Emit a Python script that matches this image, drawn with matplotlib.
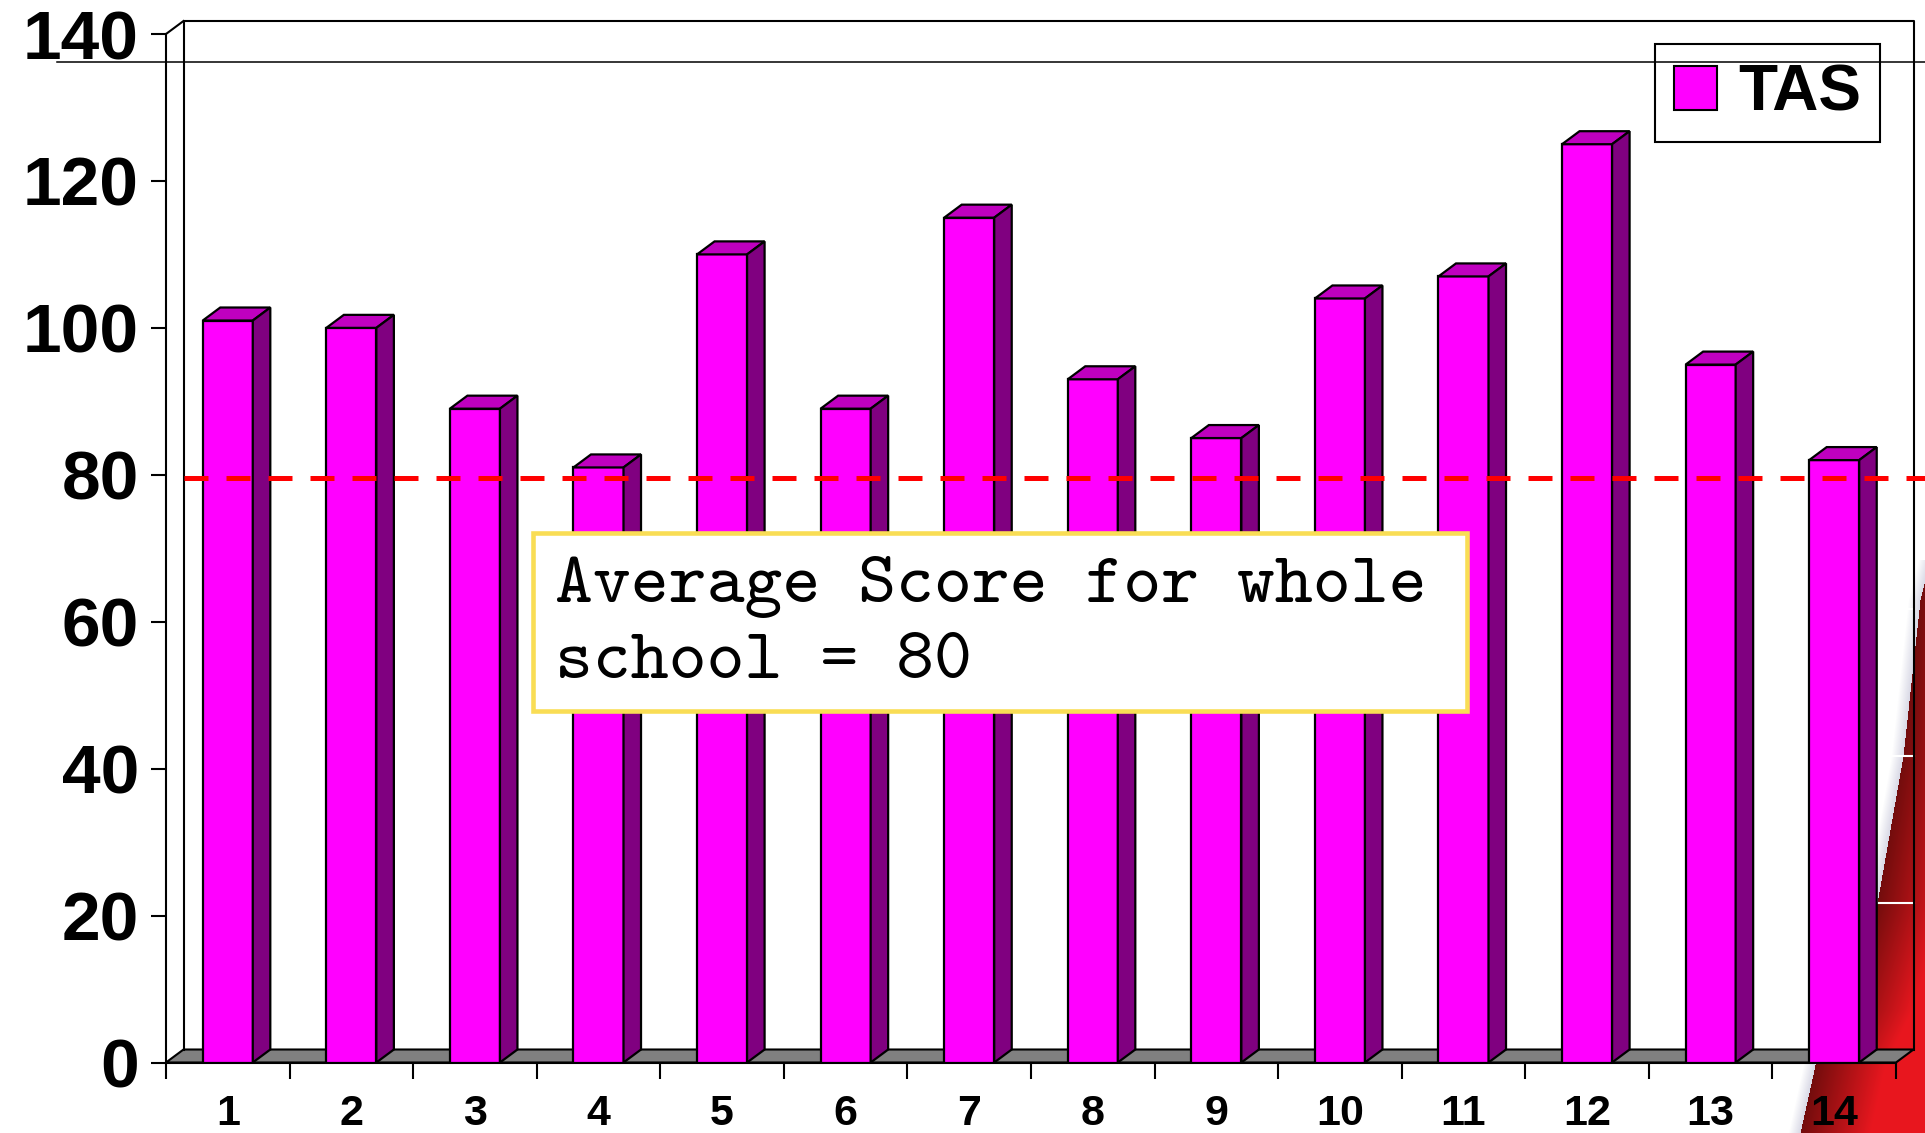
import numpy as np
import matplotlib
matplotlib.use('Agg')
import matplotlib.pyplot as plt
from matplotlib.patches import Polygon, Rectangle, Patch

plt.rcParams['font.family'] = ['Liberation Sans', 'DejaVu Sans']
plt.rcParams['font.weight'] = 'bold'

# data
categories = [str(i) for i in range(1, 15)]
tas_scores = [101, 100, 89, 81, 110, 89, 115, 93, 85, 104, 107, 125, 95, 82]
school_average = 79.5
y_ticks = [0, 20, 40, 60, 80, 100, 120, 140]
series_name = 'TAS'
note_lines = ['Average Score for whole', 'school = 80']

# colours
front_col = '#FF00FF'
top_col = '#BF00BF'
side_col = '#800080'
floor_col = '#808080'

W_PX, H_PX = 1925, 1133
fig = plt.figure(figsize=(W_PX / 100, H_PX / 100), dpi=100)
fig.patch.set_facecolor('white')

# red swoosh from the slide background (bottom right)
bg = fig.add_axes([0, 0, 1, 1], zorder=0)
bg.set_xlim(0, W_PX)
bg.set_ylim(H_PX, 0)
bg.axis('off')
edge_y = np.array([560, 600, 756, 903, 1010, 1065, 1133])
edge_x = np.array([1930, 1920, 1903, 1877, 1842, 1815, 1800])
yy, xx = np.mgrid[0:H_PX, 0:W_PX]
ex = np.interp(yy, edge_y, edge_x)
d = xx - ex
img = np.ones((H_PX, W_PX, 3))
dark = np.array([0.45, 0.05, 0.05])
bright = np.array([0.91, 0.09, 0.12])
t = np.clip(d / 70.0, 0, 1)[..., None]
red = dark * (1 - t) + bright * t
glow = np.clip(-d / 12.0, 0, 1)[..., None]
img = np.where((d >= 0)[..., None], red, img * glow + np.array([0.85, 0.85, 0.9]) * (1 - glow))
img[yy < edge_y[0]] = 1.0
bg.imshow(img, extent=(0, W_PX, H_PX, 0), aspect='auto', interpolation='bilinear')

# main axes
left, right, bottom_px, top_px = 166, 1896, 1062.5, 34
ax = fig.add_axes([left / W_PX, 1 - bottom_px / H_PX, (right - left) / W_PX,
                   (bottom_px - top_px) / H_PX], zorder=1)
ax.patch.set_alpha(0)
n = len(tas_scores)
x = np.arange(n)
ax.set_xlim(-0.5, n - 0.5)
ax.set_ylim(0, 140)

# depth of the fake 3d in data units
px_x = (right - left) / n
px_y = (bottom_px - top_px) / 140
dx = 17.5 / px_x
dy = 13.0 / px_y

x0, x1 = -0.5, n - 0.5
# floor
ax.add_patch(Polygon([(x0, 0), (x1, 0), (x1 + dx, dy), (x0 + dx, dy)], closed=True,
                     facecolor=floor_col, edgecolor='black', lw=1.5, clip_on=False, zorder=2))
# back wall
ax.plot([x0 + dx, x0 + dx, x1 + dx, x1 + dx], [dy, 140 + dy, 140 + dy, dy],
        color='black', lw=1.5, clip_on=False, zorder=2)
ax.plot([x0, x0 + dx], [140, 140 + dy], color='black', lw=1.5, clip_on=False, zorder=2)
for v in y_ticks[1:-1]:
    ax.plot([x0 + dx, x1 + dx], [v + dy, v + dy], color='white', lw=1.5,
            clip_on=False, zorder=1.5)

# bars
w = 0.405
ax.bar(x, tas_scores, width=w, color=front_col, edgecolor='black', lw=1.6, zorder=3)
for xi, v in zip(x, tas_scores):
    xl, xr = xi - w / 2, xi + w / 2
    ax.add_patch(Polygon([(xl, v), (xl + dx, v + dy), (xr + dx, v + dy), (xr, v)],
                         facecolor=top_col, edgecolor='black', lw=1.6, clip_on=False, zorder=3))
    ax.add_patch(Polygon([(xr, 0), (xr + dx, dy), (xr + dx, v + dy), (xr, v)],
                         facecolor=side_col, edgecolor='black', lw=1.6, clip_on=False, zorder=3))

# average line
ax.axhline(school_average, xmin=17.5 / (right - left), xmax=1.02, color='red', lw=3.6,
           dashes=(4.8, 3.6), clip_on=False, zorder=5)

# stray rule across the top of the slide
ax.axhline(136.2, xmin=-0.063, xmax=1.02, color='black', lw=1.1, clip_on=False, zorder=10)

# note box
ax.add_patch(Rectangle((0.2121, 0.3418), 0.5399, 0.1730, transform=ax.transAxes,
                       facecolor='white', edgecolor='#F9DD55', lw=3.3, zorder=6))
ax.text(0.2249, 0.4480, note_lines[0], transform=ax.transAxes, family='cmtt10',
        fontweight='normal', fontsize=52, va='baseline', ha='left', zorder=7)
ax.text(0.2249, 0.3736, note_lines[1], transform=ax.transAxes, family='cmtt10',
        fontweight='normal', fontsize=52, va='baseline', ha='left', zorder=7)

# axes styling
for s in ['top', 'right']:
    ax.spines[s].set_visible(False)
for s in ['left', 'bottom']:
    ax.spines[s].set_linewidth(1.5)
    ax.spines[s].set_zorder(2.5)
ax.set_yticks(y_ticks)
ax.tick_params(axis='y', length=10.8, width=1.5, pad=8.6, labelsize=50)
ax.set_xticks(np.arange(-0.5, n, 1))
ax.set_xticklabels([])
ax.set_xticks(x, minor=True)
ax.set_xticklabels(categories, minor=True)
ax.tick_params(axis='x', which='major', length=11.5, width=1.5)
ax.tick_params(axis='x', which='minor', length=0, pad=23, labelsize=31)

# legend
leg = ax.legend(handles=[Patch(facecolor=front_col, edgecolor='black', lw=1.5, label=series_name)],
                loc='upper right', bbox_to_anchor=(1880 / W_PX, 1 - 44 / H_PX),
                bbox_transform=fig.transFigure, borderaxespad=0, fancybox=False,
                prop={'size': 46, 'weight': 'bold'}, handlelength=0.67, handleheight=0.69,
                handletextpad=0.33, borderpad=0.3, framealpha=1)
leg.get_frame().set_edgecolor('black')
leg.get_frame().set_linewidth(1.5)
leg.set_zorder(8)

fig.savefig('out.png', dpi=100)
